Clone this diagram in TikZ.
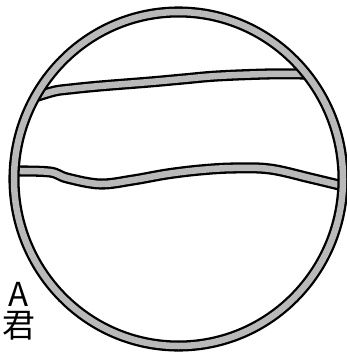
\documentclass[tikz,border=0pt]{standalone}
\usepackage{fontspec}
\newfontfamily\cjk{Noto Sans CJK SC}
\begin{document}
\begin{tikzpicture}[x=1pt,y=-1pt,
  band/.style={draw=black,line width=2.3pt,double=gray!55,double distance=6.5pt,line join=round,line cap=round},
  lbl/.style={font=\cjk\fontsize{33}{33}\selectfont,inner sep=0pt,anchor=base}]
\useasboundingbox (0,0) rectangle (346,353);
\draw[band] plot[smooth,tension=0.6] coordinates {(38,96) (55,91) (70,89) (100,86) (150,82) (183,79) (217,76) (267,74) (304,74)};
\draw[band] plot[smooth,tension=0.6] coordinates {(15,171) (50,172) (67,178) (100,184) (133,180) (167,174) (200,170) (233,168) (270,169) (310,178) (339,185)};
\draw[band] (178.5,179) ellipse [x radius=164.5, y radius=167];
\node[lbl,text height=23pt,text depth=0pt] (a) at (19,306) {A};
\node[lbl,text height=26pt,text depth=3pt] (kun) at (19,337) {君};
\end{tikzpicture}
\end{document}
